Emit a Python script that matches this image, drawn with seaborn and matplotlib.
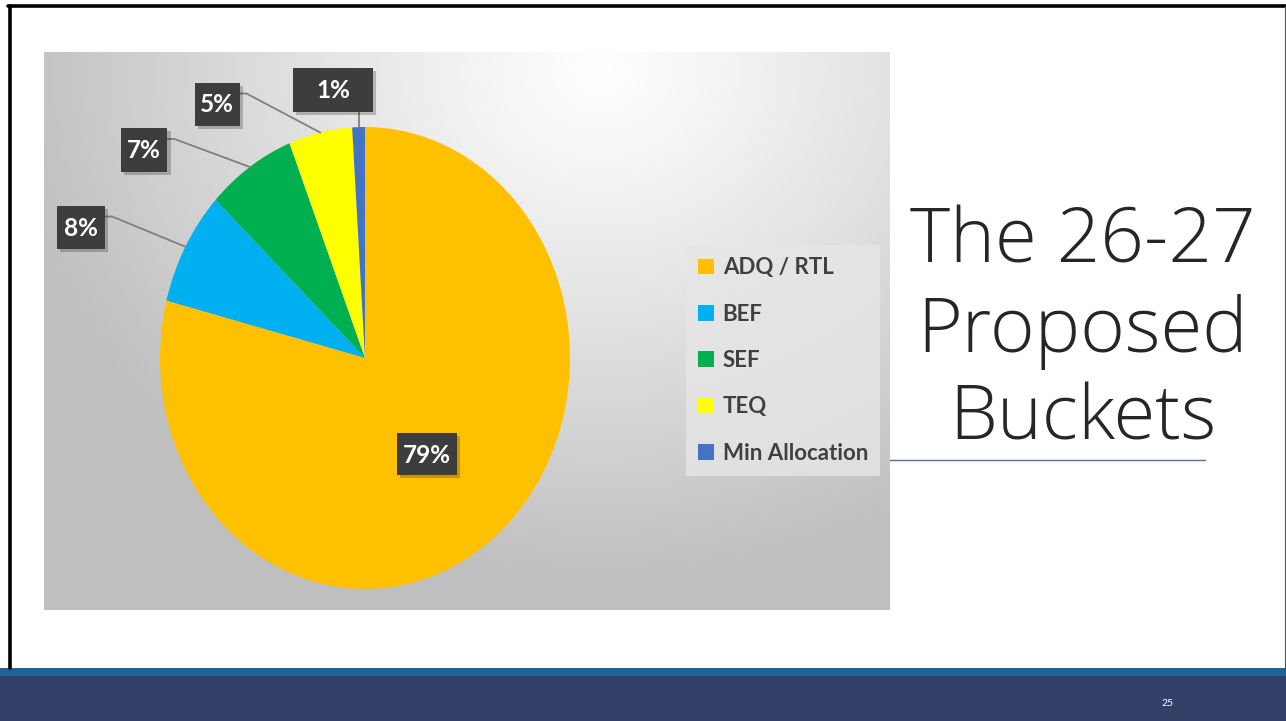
import numpy as np
import matplotlib
matplotlib.use("Agg")
import matplotlib.pyplot as plt
import seaborn as sns
from matplotlib.patches import Rectangle, Patch
from matplotlib.lines import Line2D

# ---------------- data ----------------
categories = ["ADQ / RTL", "BEF", "SEF", "TEQ", "Min Allocation"]
values = [79, 8, 7, 5, 1]
pct_labels = ["79%", "8%", "7%", "5%", "1%"]
colors = ["#FFC000", "#00B0F0", "#00B050", "#FFFF00", "#4472C4"]
title_lines = ["The 26-27", "Proposed", "Buckets"]
page_number = "25"

sns.set_theme(style="white")
plt.rcParams["font.family"] = ["Lato", "DejaVu Sans"]

W, H = 1286, 721
fig = plt.figure(figsize=(W / 100, H / 100), dpi=100)
fig.patch.set_facecolor("white")


def fx(x):
    return x / W


def fy(y):
    return 1 - y / H


# ---------------- slide decoration ----------------
fig.add_artist(Rectangle((0, 0), 1, fy(676), transform=fig.transFigure,
                         facecolor="#323F66", edgecolor="none", zorder=0))
fig.add_artist(Rectangle((0, fy(676)), 1, (676 - 668) / H, transform=fig.transFigure,
                         facecolor="#1F6396", edgecolor="none", zorder=0))
fig.add_artist(Line2D([fx(9.5), fx(9.5)], [fy(668), fy(5.5)], transform=fig.transFigure,
                      color="black", lw=2.6, zorder=5))
fig.add_artist(Line2D([fx(8), 1], [fy(5.5), fy(5.5)], transform=fig.transFigure,
                      color="black", lw=2.6, zorder=5))
fig.add_artist(Line2D([fx(1284.5), fx(1284.5)], [fy(668), fy(5.5)], transform=fig.transFigure,
                      color="#555555", lw=0.8, zorder=5))
fig.text(fx(1167), fy(703), page_number, color="white", fontsize=7.5,
         ha="center", va="center")

# ---------------- chart area background (gradient) ----------------
cx0, cy0, cx1, cy1 = 44, 52, 890, 610
bg = fig.add_axes([fx(cx0), fy(cy1), (cx1 - cx0) / W, (cy1 - cy0) / H], zorder=1)
gy, gx = np.mgrid[cy0:cy1, cx0:cx1]
d = np.sqrt(((gx - 600) / 1.0) ** 2 + ((gy - 70) / 0.85) ** 2)
t = np.clip(d / 600, 0, 1) ** 1.1
lo, hi = 0.75, 1.0
v = hi - (hi - lo) * t
img = np.dstack([v, v, v])
bg.imshow(img, aspect="auto", extent=(0, 1, 0, 1), interpolation="bilinear")
bg.set_axis_off()

# ---------------- pie ----------------
px0, py0, px1, py1 = 160, 127, 570, 589
ax = fig.add_axes([fx(px0), fy(py1), (px1 - px0) / W, (py1 - py0) / H], zorder=3)
wedges, _ = ax.pie(values, colors=colors, startangle=90, counterclock=False,
                   radius=1.0, wedgeprops=dict(linewidth=0))
ax.set_aspect("auto")
ax.set_xlim(-1, 1)
ax.set_ylim(-1, 1)
ax.set_axis_off()

# ---------------- data labels ----------------
to_fig = ax.transData + fig.transFigure.inverted()
cum = np.cumsum([0] + values)
total = float(sum(values))
label_boxes = {
    "79%": (427, 454, 60, 42),
    "8%": (81, 227, 48, 43),
    "7%": (144, 150, 47, 44),
    "5%": (217, 104, 45, 43),
    "1%": (333, 90, 80, 44),
}
for i, lab in enumerate(pct_labels):
    bxc, byc, bw, bh = label_boxes[lab]
    fig.add_artist(Rectangle((fx(bxc - bw / 2 + 3), fy(byc + bh / 2 + 3)), bw / W, bh / H,
                             transform=fig.transFigure, facecolor="black", alpha=0.22,
                             edgecolor="none", zorder=6))
    fig.add_artist(Rectangle((fx(bxc - bw / 2), fy(byc + bh / 2)), bw / W, bh / H,
                             transform=fig.transFigure, facecolor="#3D3D3D",
                             edgecolor="none", zorder=7))
    fig.text(fx(bxc), fy(byc + 1), lab, color="white", fontsize=17.5, fontweight="bold",
             ha="center", va="center", zorder=8)
    if i == 0:
        continue
    mid = (cum[i] + cum[i + 1]) / 2 / total
    theta = 2 * np.pi * mid
    ex, ey = to_fig.transform((np.sin(theta), np.cos(theta)))
    if lab == "1%":
        xs = [ex, ex]
        ys = [fy(byc + bh / 2), ey]
    else:
        yline = byc - bh / 2 + 11
        xs = [fx(bxc + bw / 2), fx(bxc + bw / 2 + 7), ex]
        ys = [fy(yline), fy(yline), ey]
    fig.add_artist(Line2D(xs, ys, transform=fig.transFigure, color="#7F7F7F",
                          lw=1.3, zorder=5))

# ---------------- legend ----------------
handles = [Patch(facecolor=c, edgecolor="none") for c in colors]
leg = fig.legend(handles, categories, loc="upper left",
                 bbox_to_anchor=(fx(686), fy(245)), borderaxespad=0,
                 frameon=True, fancybox=False,
                 prop=dict(weight="bold", size=16),
                 handlelength=0.7, handleheight=0.7, handletextpad=0.4,
                 labelspacing=1.14, borderpad=0.55)
leg.get_frame().set_facecolor("#E6E6E6")
leg.get_frame().set_edgecolor("none")
leg.set_zorder(9)
for txt in leg.get_texts():
    txt.set_color("#404040")

# ---------------- title ----------------
for line, base in zip(title_lines, [262, 352, 440]):
    fig.text(fx(1083), fy(base), line, fontsize=55, fontweight="light",
             family=["Open Sans", "DejaVu Sans"], color="#262626",
             ha="center", va="baseline", zorder=4)
fig.add_artist(Line2D([fx(890), fx(1205)], [fy(460), fy(460)], transform=fig.transFigure,
                      color="#5A6E91", lw=1.0, zorder=4))

fig.savefig("out.png", dpi=100)
